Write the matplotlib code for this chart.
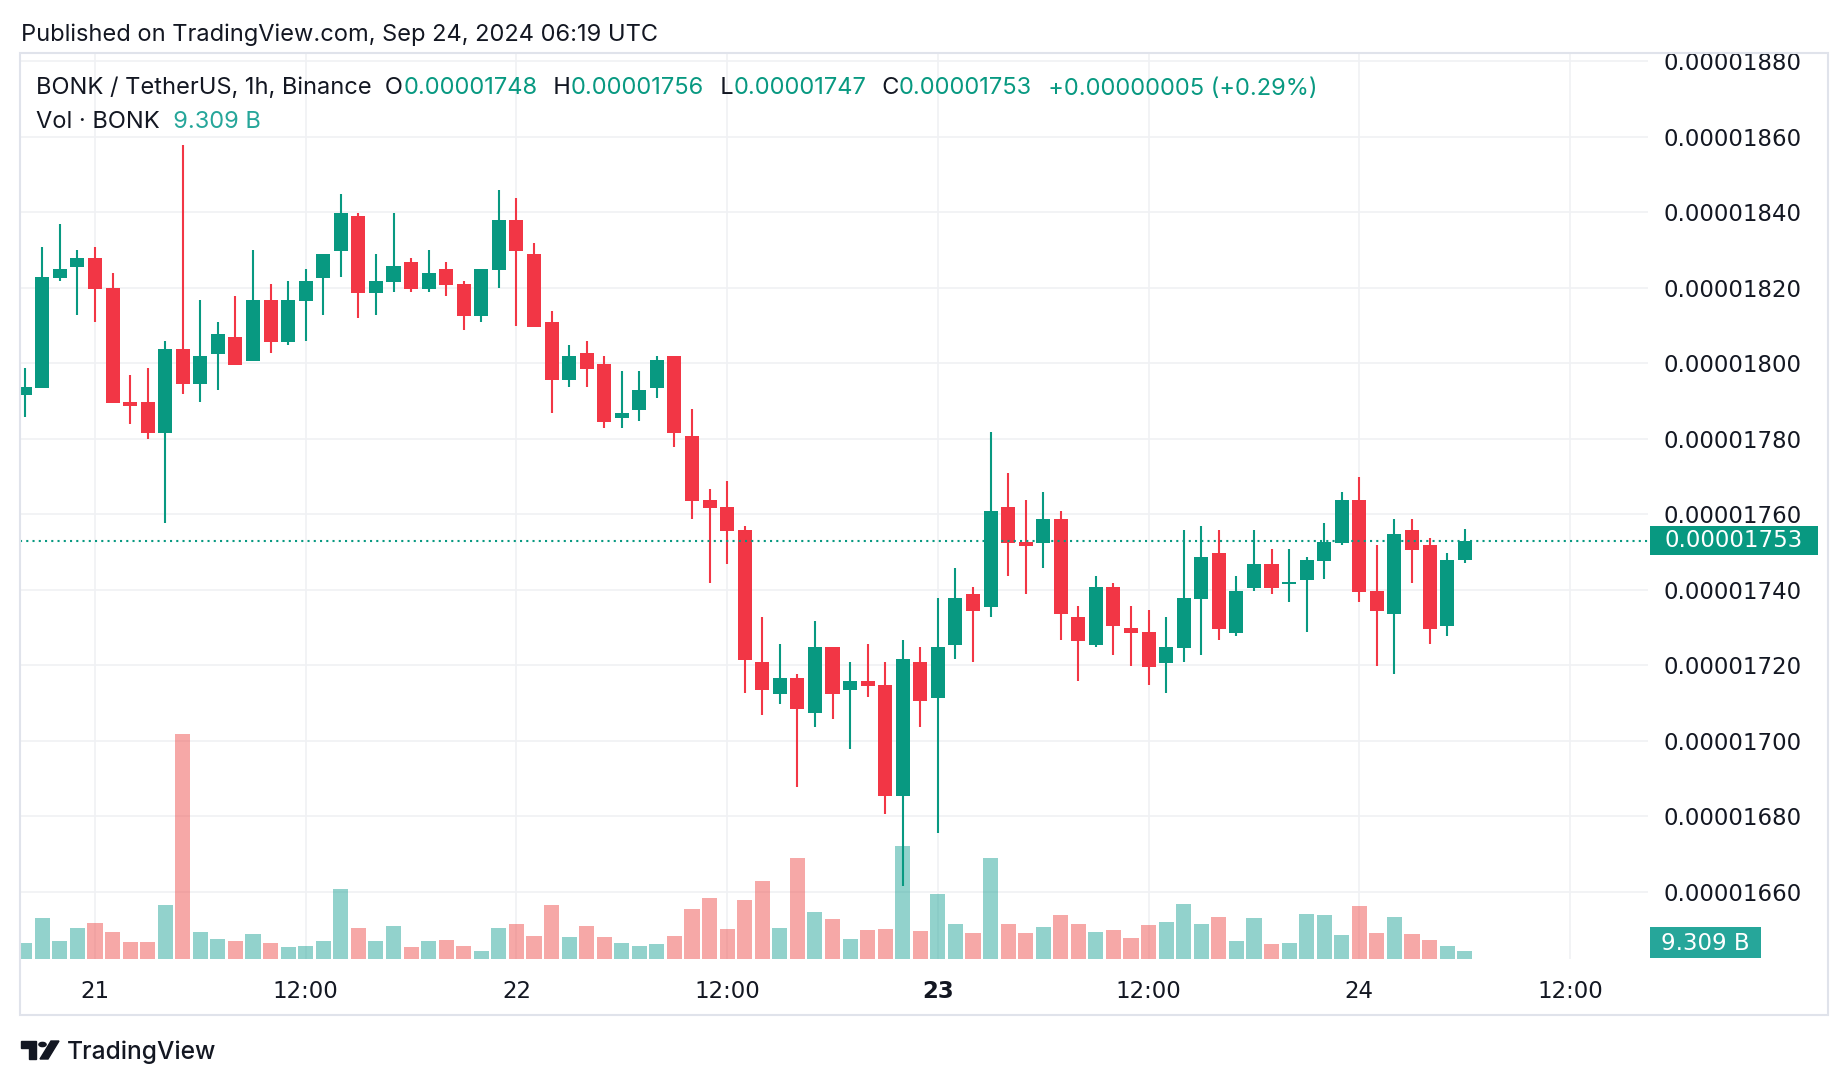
import numpy as np
import matplotlib
matplotlib.use("Agg")
import matplotlib.pyplot as plt
from matplotlib.patches import Rectangle, Polygon, Circle
from matplotlib.transforms import blended_transform_factory

# -----------------------------------------
# BONK/USDT 1 saatlik mumlar (fiyat 1e-8 biriminde), saat: 21 Eylül 00:00 UTC'ye göre
hours = np.arange(-4, 79)

opens = [1791.6, 1793.5, 1822.6, 1825.6, 1827.9, 1819.9, 1789.7, 1789.7, 1781.6, 1803.8,
         1794.6, 1802.5, 1806.9, 1800.7, 1816.7, 1805.7, 1816.6, 1822.6, 1829.8, 1839.0,
         1818.7, 1821.6, 1826.8, 1819.7, 1825.0, 1821.0, 1812.6, 1824.8, 1837.9, 1828.9,
         1810.9, 1795.6, 1802.7, 1799.8, 1785.6, 1787.7, 1793.5, 1801.9, 1780.8, 1763.8,
         1762.0, 1755.8, 1720.9, 1712.5, 1716.6, 1707.4, 1724.8, 1713.5, 1715.8, 1714.8,
         1685.4, 1720.9, 1711.4, 1725.4, 1738.9, 1735.5, 1761.9, 1752.6, 1752.5, 1758.7,
         1732.8, 1725.4, 1740.7, 1729.9, 1728.8, 1720.7, 1724.6, 1737.6, 1749.7, 1728.6,
         1740.6, 1746.8, 1741.6, 1742.7, 1747.7, 1752.5, 1763.8, 1739.7, 1733.7, 1755.8,
         1751.8, 1730.5, 1748.0]
highs = [1798.7, 1830.8, 1836.9, 1830.0, 1830.8, 1823.9, 1796.9, 1798.7, 1805.9, 1857.8,
         1816.7, 1810.9, 1817.8, 1830.0, 1821.0, 1821.8, 1825.0, 1828.9, 1844.8, 1839.8,
         1828.9, 1839.8, 1827.9, 1830.0, 1826.8, 1821.8, 1825.0, 1845.9, 1843.8, 1831.8,
         1813.8, 1804.8, 1805.9, 1801.9, 1798.0, 1798.0, 1801.9, 1801.9, 1788.0, 1766.8,
         1768.9, 1757.0, 1732.8, 1725.6, 1717.7, 1731.7, 1724.8, 1720.9, 1725.6, 1720.9,
         1726.7, 1724.8, 1737.8, 1745.8, 1740.7, 1781.8, 1770.9, 1763.8, 1765.9, 1760.8,
         1735.7, 1743.6, 1741.8, 1735.7, 1734.6, 1732.8, 1755.8, 1756.9, 1755.8, 1743.6,
         1755.8, 1750.8, 1750.8, 1748.7, 1757.7, 1765.9, 1769.9, 1751.8, 1758.7, 1758.7,
         1753.7, 1749.7, 1756.0]
lows = [1785.8, 1793.5, 1821.9, 1812.9, 1811.0, 1789.5, 1784.0, 1780.0, 1757.8, 1792.0,
        1789.8, 1793.0, 1799.6, 1800.7, 1802.8, 1804.9, 1806.0, 1812.9, 1822.9, 1812.1,
        1812.9, 1819.0, 1819.0, 1819.0, 1817.9, 1808.9, 1811.0, 1820.0, 1810.0, 1809.7,
        1786.9, 1793.8, 1793.8, 1782.9, 1782.9, 1784.8, 1790.9, 1777.9, 1758.8, 1741.9,
        1746.9, 1712.7, 1706.9, 1709.8, 1687.8, 1703.7, 1705.8, 1697.9, 1711.7, 1680.7,
        1661.6, 1703.7, 1675.6, 1721.7, 1720.9, 1732.9, 1743.7, 1739.0, 1745.8, 1726.8,
        1715.9, 1724.9, 1722.8, 1719.9, 1714.8, 1712.7, 1720.9, 1722.8, 1726.8, 1727.8,
        1739.7, 1739.0, 1736.8, 1728.9, 1742.9, 1751.9, 1736.8, 1719.9, 1717.8, 1741.9,
        1725.7, 1727.8, 1747.0]
closes = [1793.7, 1822.8, 1825.0, 1827.9, 1819.7, 1789.5, 1788.7, 1781.6, 1803.8, 1794.6,
          1801.9, 1807.7, 1799.6, 1816.7, 1805.7, 1816.7, 1821.8, 1828.9, 1839.8, 1818.7,
          1821.8, 1825.7, 1819.7, 1823.9, 1820.8, 1812.6, 1825.0, 1837.9, 1829.8, 1809.7,
          1795.6, 1801.9, 1798.5, 1784.5, 1786.8, 1793.0, 1800.8, 1781.6, 1763.6, 1761.7,
          1755.6, 1721.5, 1713.5, 1716.6, 1708.5, 1724.8, 1712.5, 1715.8, 1714.6, 1685.4,
          1721.6, 1710.6, 1724.8, 1737.8, 1734.5, 1760.8, 1752.5, 1751.7, 1758.7, 1733.7,
          1726.5, 1740.7, 1730.5, 1728.6, 1719.6, 1724.8, 1737.8, 1748.7, 1729.7, 1739.7,
          1746.8, 1740.6, 1742.0, 1747.9, 1752.6, 1763.8, 1739.5, 1734.5, 1754.8, 1750.6,
          1729.7, 1747.9, 1753.0]
# hacim (milyar BONK)
volumes_b = [18.6, 47.7, 20.9, 36.1, 41.9, 31.4, 19.8, 19.8, 62.8, 261.8,
             31.4, 23.3, 20.9, 29.1, 18.6, 14.0, 15.1, 20.9, 81.5, 36.1,
             20.9, 38.4, 14.0, 20.9, 22.1, 15.1, 9.3, 36.1, 40.7, 26.8,
             62.8, 25.6, 38.4, 25.6, 18.6, 15.1, 17.5, 26.8, 58.2, 71.0,
             34.9, 68.7, 90.8, 36.1, 117.5, 54.7, 46.5, 23.3, 33.7, 34.9,
             131.5, 32.6, 75.6, 40.7, 30.3, 117.5, 40.7, 30.3, 37.2, 51.2,
             40.7, 31.4, 33.7, 24.4, 39.6, 43.1, 64.0, 40.7, 48.9, 20.9,
             47.7, 17.5, 18.6, 52.4, 51.2, 27.9, 61.7, 30.3, 48.9, 29.1,
             22.1, 15.1, 9.309]

price_ticks = np.arange(1660, 1881, 20)
time_ticks = [0, 12, 24, 36, 48, 60, 72, 84]
time_labels = ["21", "12:00", "22", "12:00", "23", "12:00", "24", "12:00"]

# -----------------------------------------
UP, DOWN = "#089981", "#F23645"
VUP, VDOWN = "#26a69a", "#ef5350"
TXT = "#131722"
GRID = "#f0f1f4"
AXFONT = ["DejaVu Sans"]
AXSIZE = 16.5

plt.rcParams["font.family"] = ["Inter", "DejaVu Sans"]

W, H = 1848, 1086
fig = plt.figure(figsize=(W / 100, H / 100), dpi=100)


def fx(px):
    return px / W


def fy(py):
    return 1 - py / H


L_, R_, T_, B_ = 20, 1648, 53, 959
rect = [fx(L_), fy(B_), fx(R_) - fx(L_), fy(T_) - fy(B_)]
ax = fig.add_axes(rect)                               # izgara + fiyat ekseni
ax_v = fig.add_axes(rect, sharex=ax)                  # hacim
ax_c = fig.add_axes(rect, sharex=ax, sharey=ax)       # mumlar

o = np.array(opens) * 1e-8
hi = np.array(highs) * 1e-8
lo = np.array(lows) * 1e-8
c = np.array(closes) * 1e-8
up = c >= o

ax.set_xlim(-4.27, 88.44)
ax.set_ylim(1642.2e-8, 1882.2e-8)
ax.set_yticks(price_ticks * 1e-8)
ax.set_yticklabels([f"{v * 1e-8:.8f}" for v in price_ticks], family=AXFONT)
ax.set_xticks(time_ticks)
ax.set_xticklabels(time_labels, family=AXFONT)
ax.get_xticklabels()[4].set_fontweight("bold")
ax.yaxis.tick_right()
ax.tick_params(axis="y", length=0, pad=11.5, labelsize=AXSIZE, labelcolor=TXT)
ax.tick_params(axis="x", length=0, pad=15, labelsize=AXSIZE, labelcolor=TXT)
ax.grid(True, color=GRID, lw=1.2)
for s in ax.spines.values():
    s.set_visible(False)

# hacim çubukları
vcol = [VUP if u else VDOWN for u in up]
ax_v.bar(hours, volumes_b, width=0.86, color=vcol, alpha=0.5, lw=0)
ax_v.set_ylim(0, 1054)
ax_v.set_axis_off()

# mumlar
col = np.where(up, UP, DOWN)
ax_c.vlines(hours, lo, hi, colors=col, lw=1.5)
ax_c.bar(hours, np.maximum(np.abs(c - o), 0.3e-8), bottom=np.minimum(o, c),
         width=0.8, color=col, lw=0)
ax_c.axhline(c[-1], color=UP, lw=1.5, ls=(0, (1, 2)))
ax_c.set_axis_off()

# son fiyat etiketi
px_per_unit = (B_ - T_) / (ax.get_ylim()[1] - ax.get_ylim()[0])
half = 14.5 / px_per_unit
tr = blended_transform_factory(fig.transFigure, ax.transData)
fig.add_artist(Rectangle((fx(1650), c[-1] - half), 168 / W, 2 * half,
                         transform=tr, color=UP, lw=0, zorder=2))
fig.text(fx(1664), c[-1], f"{c[-1]:.8f}", transform=tr, va="center", ha="left",
         color="white", size=AXSIZE, family=AXFONT, zorder=3)

# hacim etiketi
fig.add_artist(Rectangle((fx(1650), fy(958)), 111 / W, 31 / H,
                         transform=fig.transFigure, color=VUP, lw=0, zorder=2))
fig.text(fx(1705), fy(943), f"{volumes_b[-1]:.3f} B", va="center", ha="center",
         color="white", size=AXSIZE, family=AXFONT, zorder=3)

# çerçeve
fig.add_artist(Rectangle((fx(20), fy(1015)), fx(1828) - fx(20), fy(53) - fy(1015),
                         transform=fig.transFigure, fill=False, ec="#e0e3eb", lw=1.5))

# başlık
HSIZE = 17
fig.text(fx(21), fy(34.5), "Published on TradingView.com, Sep 24, 2024 06:19 UTC",
         va="center", ha="left", size=HSIZE, color=TXT)

pieces = [("BONK / TetherUS, 1h, Binance  O", TXT),
          (f"{o[-1]:.8f}", UP), ("  H", TXT), (f"{hi[-1]:.8f}", UP),
          ("  L", TXT), (f"{lo[-1]:.8f}", UP), ("  C", TXT), (f"{c[-1]:.8f}", UP),
          (f"  +{c[-1] - o[-1]:.8f} (+{(c[-1] - c[-2]) / c[-2] * 100:.2f}%)", UP)]
prev = None
for s, clr in pieces:
    if prev is None:
        prev = ax_c.annotate(s, xy=(fx(36.5), fy(88.5)), xycoords="figure fraction",
                             va="center", ha="left", size=HSIZE, color=clr,
                             annotation_clip=False)
    else:
        gap = 1.8 if s.startswith(" ") else 0
        prev = ax_c.annotate(s, xy=(1, 0.5), xycoords=prev, xytext=(gap, 0),
                             textcoords="offset points", va="center", ha="left",
                             size=HSIZE, color=clr, annotation_clip=False)

t = ax_c.annotate("Vol · BONK", xy=(fx(36.5), fy(121.5)), xycoords="figure fraction",
                  va="center", ha="left", size=HSIZE, color=TXT, annotation_clip=False)
ax_c.annotate(f"  {volumes_b[-1]:.3f} B", xy=(1, 0.5), xycoords=t, va="center",
              ha="left", size=HSIZE, color=VUP, annotation_clip=False)

# TradingView logosu
ft = fig.transFigure
fig.add_artist(Polygon([(fx(21), fy(1041)), (fx(36), fy(1041)), (fx(36), fy(1059)),
                        (fx(29), fy(1059)), (fx(29), fy(1048)), (fx(21), fy(1048))],
                       closed=True, color=TXT, transform=ft))
fig.add_artist(Polygon([(fx(40), fy(1059)), (fx(48), fy(1059)), (fx(59), fy(1041)),
                        (fx(51), fy(1041))], closed=True, color=TXT, transform=ft))
fig.add_artist(Circle((fx(42.5), fy(1044.5)), 3.6 / W, color=TXT, transform=ft))
fig.text(fx(67), fy(1052), "TradingView", va="center", ha="left", size=17.7,
         color=TXT, weight="medium")

fig.savefig("out.png", dpi=100, facecolor="white")
